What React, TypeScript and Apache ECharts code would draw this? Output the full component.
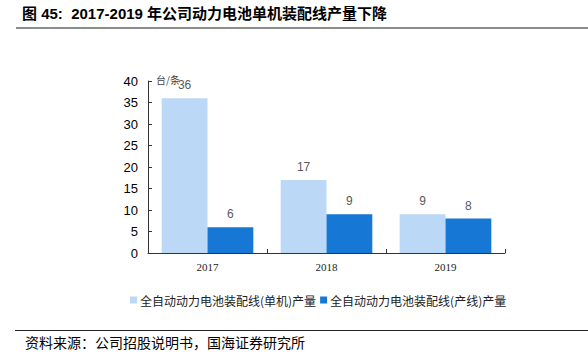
import React, { useEffect, useRef } from "react";
import * as echarts from "echarts";

const categories = ["2017", "2018", "2019"];
const seriesNames = ["全自动动力电池装配线(单机)产量", "全自动动力电池装配线(产线)产量"];
const singleMachine = [36, 17, 9];
const productionLine = [6, 9, 8];
const yTicks = { min: 0, max: 40, interval: 5 };

export default function App() {
  const ref = useRef<HTMLDivElement>(null);
  useEffect(() => {
    const chart = echarts.init(ref.current!, null, { renderer: "svg" });
    const cjk = "'Noto Sans CJK SC', sans-serif";
    chart.setOption({
      animation: false,
      backgroundColor: "#ffffff",
      grid: { left: 148, right: 83, top: 81, bottom: 99 },
      graphic: [
        {
          type: "text",
          left: 22,
          top: 6,
          style: {
            text: "图 45:  2017-2019 年公司动力电池单机装配线产量下降",
            font: "bold 15px 'Liberation Sans', 'Noto Sans CJK SC', sans-serif",
            fill: "#000",
          },
        },
        {
          type: "line",
          shape: { x1: 16, y1: 28, x2: 588, y2: 28 },
          style: { stroke: "#8c8c8c", lineWidth: 2 },
        },
        {
          type: "line",
          shape: { x1: 15, y1: 330.5, x2: 588, y2: 330.5 },
          style: { stroke: "#222", lineWidth: 1 },
        },
        {
          type: "text",
          left: 25,
          top: 335,
          style: {
            text: "资料来源：公司招股说明书，国海证券研究所",
            font: "14px " + cjk,
            fill: "#000",
          },
        },
        {
          type: "text",
          left: 156,
          top: 74,
          style: { text: "台/条", font: "10px " + cjk, fill: "#444" },
        },
      ],
      legend: {
        left: 125,
        top: 289,
        itemWidth: 7,
        itemHeight: 7,
        itemGap: 4,
        icon: "rect",
        textStyle: { fontFamily: cjk, fontSize: 12, color: "#222", padding: [0, 0, 0, -2] },
        data: seriesNames,
      },
      xAxis: {
        type: "category",
        data: categories,
        axisLine: { lineStyle: { color: "#333", width: 1 } },
        axisTick: { show: true, inside: true, length: 4, lineStyle: { color: "#333" } },
        axisLabel: { fontFamily: "'Liberation Serif', serif", fontSize: 11, color: "#222", margin: 8 },
      },
      yAxis: {
        type: "value",
        min: yTicks.min,
        max: yTicks.max,
        interval: yTicks.interval,
        splitLine: { show: false },
        axisLine: { show: true, lineStyle: { color: "#333", width: 1 } },
        axisTick: { show: true, inside: true, length: 4, lineStyle: { color: "#333" } },
        axisLabel: { fontFamily: "'Liberation Sans', Arial, sans-serif", fontSize: 13, color: "#000", margin: 10 },
      },
      series: [
        {
          name: seriesNames[0],
          type: "bar",
          data: singleMachine,
          barGap: "0%",
          barCategoryGap: "23%",
          itemStyle: { color: "#bcd8f7" },
          label: { show: true, position: "top", fontFamily: "'Liberation Sans', sans-serif", fontSize: 12, color: "#595959", distance: 7 },
        },
        {
          name: seriesNames[1],
          type: "bar",
          data: productionLine,
          barGap: "0%",
          barCategoryGap: "23%",
          itemStyle: { color: "#1677d4" },
          label: { show: true, position: "top", fontFamily: "'Liberation Sans', sans-serif", fontSize: 12, color: "#595959", distance: 7 },
        },
      ],
    });
    return () => chart.dispose();
  }, []);
  return <div ref={ref} style={{ width: 588, height: 352, position: "absolute", left: 0, top: 0 }} />;
}
